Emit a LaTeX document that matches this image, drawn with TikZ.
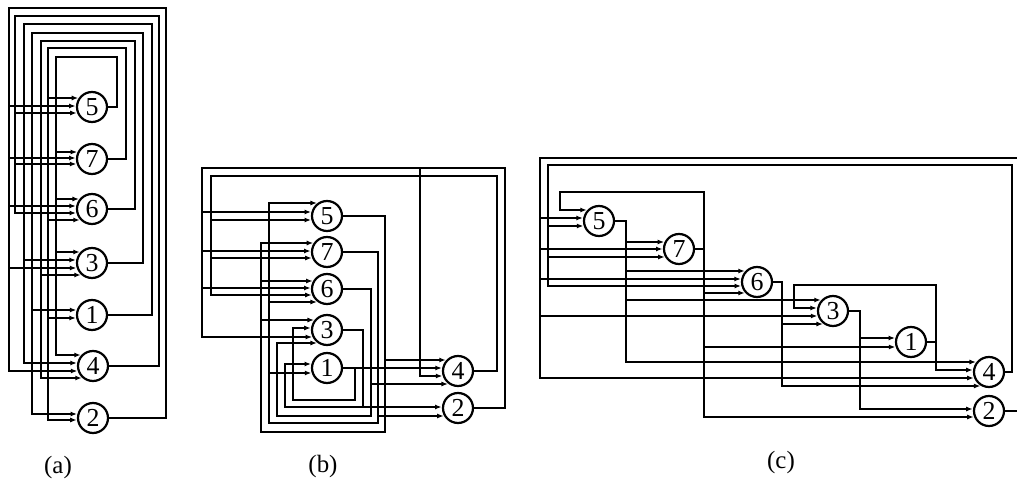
\documentclass[tikz,border=0pt]{standalone}
\usepackage{fontspec}
\setmainfont{Liberation Serif}
\usetikzlibrary{arrows.meta,calc}
\tikzset{
  wire/.style={line width=2.2bp, line cap=rect},
  feedarrow/.style={wire, -{Latex[length=6.5bp,width=5bp]}},
  gate/.style={circle, draw, line width=2.2bp, minimum size=30bp, inner sep=0pt, font=\fontsize{26}{26}\selectfont},
  caption/.style={font=\fontsize{25}{25}\selectfont}
}
\newcommand\feed[2]{\draw[feedarrow] let \p1=(#2.center), \p2=#1 in (\p2) -- ({\x1-sqrt(16.5*16.5-((\y2)-(\y1))*((\y2)-(\y1)))}, \y2);}
\begin{document}
\begin{tikzpicture}[x=1bp,y=-1bp]
\useasboundingbox (0,0) rectangle (1017,495);
% ---------------- panel (a)
\node[gate] (a5) at (92,107) {5};
\node[gate] (a7) at (92,159) {7};
\node[gate] (a6) at (92,209) {6};
\node[gate] (a3) at (92,263) {3};
\node[gate] (a1) at (92,315) {1};
\node[gate] (a4) at (93,366) {4};
\node[gate] (a2) at (93,418) {2};
\draw[wire] (a5.east) -| (117,57) -| (56,355);
\draw[wire] (a7.east) -| (126,48) -| (48,420);
\draw[wire] (a6.east) -| (135,41) -| (41,378);
\draw[wire] (a3.east) -| (143,33) -| (32,414);
\draw[wire] (a1.east) -| (152,24) -| (24,363);
\draw[wire] (a4.east) -| (159,16) -| (15,213);
\draw[wire] (a2.east) -| (166,8) -| (9,371);
\foreach \sx/\sy/\tg in {48/98/a5, 9/106/a5, 15/113/a5,
  56/152/a7, 9/158/a7, 15/164/a7,
  56/199/a6, 9/206/a6, 15/213/a6, 48/220/a6,
  56/252/a3, 24/260/a3, 9/268/a3, 41/275/a3,
  32/310/a1, 48/318/a1,
  56/355/a4, 24/363/a4, 9/371/a4, 41/378/a4,
  32/414/a2, 48/420/a2}
  {\feed{(\sx,\sy)}{\tg}}
\node[caption] (la) at (58,468) {(a)};
% ---------------- panel (b)
\node[gate] (b5) at (327,216) {5};
\node[gate] (b7) at (327,252) {7};
\node[gate] (b6) at (327,289) {6};
\node[gate] (b3) at (327,330) {3};
\node[gate] (b1) at (327,368) {1};
\node[gate] (b4) at (458,371) {4};
\node[gate] (b2) at (458,408) {2};
\draw[wire] (b5.east) -| (385,432) -| (261,243);
\draw[wire] (b7.east) -| (378,423) -| (269,203);
\draw[wire] (b6.east) -| (371,416) -| (277,343);
\draw[wire] (b3.east) -| (363,407);
\draw[wire] (285,364) |- (363,407);
\draw[wire] (355,368) -- (355,400) -| (293,328);
\draw[wire] (b4.east) -| (497,176) -| (211,295);
\draw[wire] (b2.east) -| (505,168) -| (202,337);
\draw[wire] (420,168) -- (420,376);
\feed{(b1.east)}{b4}
\foreach \sx/\sy/\tg in {269/203/b5, 202/212/b5, 211/220/b5,
  261/243/b7, 202/251/b7, 211/258/b7,
  261/281/b6, 202/288/b6, 211/295/b6, 269/302/b6,
  261/320/b3, 293/328/b3, 202/337/b3, 277/343/b3,
  285/364/b1, 269/373/b1,
  385/360/b4, 420/376/b4, 371/384/b4,
  363/407/b2, 378/416/b2}
  {\feed{(\sx,\sy)}{\tg}}
\node[caption] (lb) at (323,467) {(b)};
% ---------------- panel (c)
\node[gate] (c5) at (599,221) {5};
\node[gate] (c7) at (679,249) {7};
\node[gate] (c6) at (757,282) {6};
\node[gate] (c3) at (833,311) {3};
\node[gate] (c1) at (911,342) {1};
\node[gate] (c4) at (989,372) {4};
\node[gate] (c2) at (989,411) {2};
\draw[wire] (c5.east) -| (626,362);
\draw[wire] (c7.east) -- (704,249);
\draw[wire] (560,210) |- (704,192) -- (704,417);
\draw[wire] (c6.east) -| (782,386);
\draw[wire] (c3.east) -| (860,409);
\draw[wire] (c1.east) -- (936,342);
\draw[wire] (794,308) |- (936,285) -- (936,370);
\draw[wire] (c4.east) -| (1012,165) -| (548,286);
\draw[wire] (c2.east) -- (1030,411) -- (1030,158) -| (540,378);
\foreach \sx/\sy/\tg in {560/210/c5, 540/218/c5, 548/226/c5,
  626/242/c7, 540/249/c7, 548/257/c7,
  626/271/c6, 540/279/c6, 548/286/c6, 704/293/c6,
  626/300/c3, 794/308/c3, 540/316/c3, 782/324/c3,
  860/338/c1, 704/347/c1,
  626/362/c4, 936/370/c4, 540/378/c4, 782/386/c4,
  860/409/c2, 704/417/c2}
  {\feed{(\sx,\sy)}{\tg}}
\node[caption] (lc) at (781,463) {(c)};
\end{tikzpicture}
\end{document}
